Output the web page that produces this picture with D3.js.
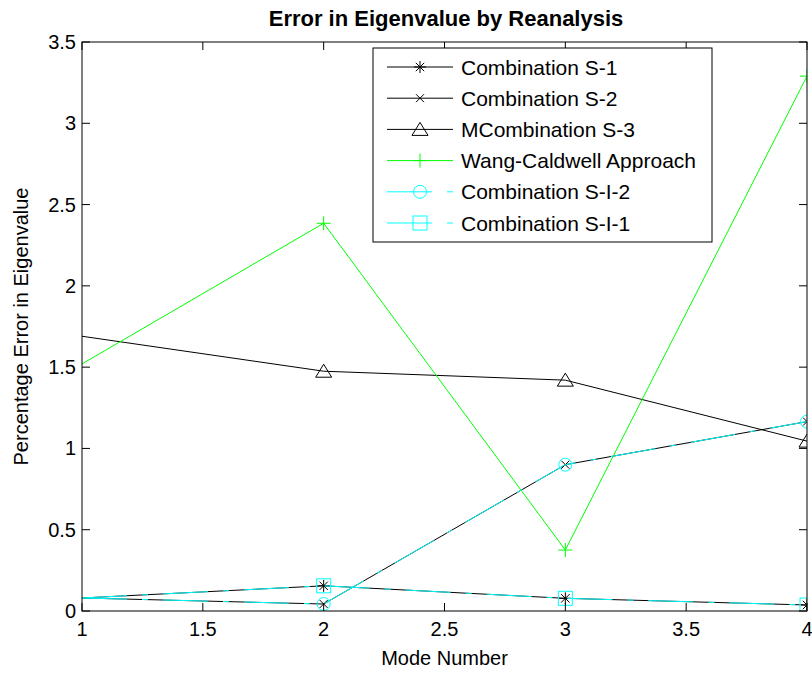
<!DOCTYPE html>
<html>
<head>
<meta charset="utf-8">
<script src="https://cdn.jsdelivr.net/npm/d3@7"></script>
<style>
  body { margin: 0; background: #fff; }
  text { font-family: "Liberation Sans", Arial, sans-serif; fill: #000; }
</style>
</head>
<body>
<div id="chart"></div>
<script>
// data (value at mode 1 is where each line enters the axes)
const modes = [1, 2, 3, 4];
const comboS1 = [0.08, 0.155, 0.078, 0.037];
const comboS2 = [0.08, 0.043, 0.90, 1.165];
const mcomboS3 = [1.69, 1.475, 1.42, 1.045];
const wangCaldwell = [1.52, 2.385, 0.375, 3.29];
const comboSI2 = [0.08, 0.043, 0.90, 1.165];
const comboSI1 = [0.08, 0.155, 0.078, 0.037];
const xTicks = [1, 1.5, 2, 2.5, 3, 3.5, 4];
const yTicks = [0, 0.5, 1, 1.5, 2, 2.5, 3, 3.5];

const series = [
  {name: "Combination S-1", values: comboS1, color: "#000", marker: "star"},
  {name: "Combination S-2", values: comboS2, color: "#000", marker: "x"},
  {name: "MCombination S-3", values: mcomboS3, color: "#000", marker: "triangle"},
  {name: "Wang-Caldwell Approach", values: wangCaldwell, color: "#00ff00", marker: "plus"},
  {name: "Combination S-I-2", values: comboSI2, color: "#00ffff", marker: "circle", dash: "45,15,6,15"},
  {name: "Combination S-I-1", values: comboSI1, color: "#00ffff", marker: "square", dash: "45,15,6,15"}
];

// dimensions
const width = 812, height = 673;
const plotLeft = 82, plotRight = 807, plotTop = 42, plotBottom = 611;
const tickLen = 8;

const x = d3.scaleLinear().domain([1, 4]).range([plotLeft, plotRight]);
const y = d3.scaleLinear().domain([0, 3.5]).range([plotBottom, plotTop]);

const svg = d3.select("#chart").append("svg")
  .attr("width", width)
  .attr("height", height);

svg.append("clipPath").attr("id", "plotClip")
  .append("rect")
  .attr("x", plotLeft).attr("y", plotTop)
  .attr("width", plotRight - plotLeft).attr("height", plotBottom - plotTop);

// draw a marker of given type centred on (cx, cy)
const drawMarker = (g, type, cx, cy, color) => {
  const m = g.append("g").attr("transform", `translate(${cx},${cy})`)
    .attr("fill", "none").attr("stroke", color).attr("stroke-width", 1);
  if (type === "star") {
    const r = 6;
    m.append("path").attr("d", `M${-r},0H${r}M0,${-r}V${r}M${-r*0.7},${-r*0.7}L${r*0.7},${r*0.7}M${-r*0.7},${r*0.7}L${r*0.7},${-r*0.7}`);
  } else if (type === "x") {
    const r = 4;
    m.append("path").attr("d", `M${-r},${-r}L${r},${r}M${-r},${r}L${r},${-r}`);
  } else if (type === "triangle") {
    m.append("path").attr("d", "M0,-7L8,6H-8Z");
  } else if (type === "plus") {
    const r = 7;
    m.append("path").attr("d", `M${-r},0H${r}M0,${-r}V${r}`);
  } else if (type === "circle") {
    m.append("circle").attr("r", 6.5);
  } else if (type === "square") {
    m.append("rect").attr("x", -7).attr("y", -7).attr("width", 14).attr("height", 14);
  }
};

// series lines and markers, clipped to the axes
const line = d3.line().x((d, i) => x(modes[i])).y(d => y(d));
const plot = svg.append("g").attr("clip-path", "url(#plotClip)");
series.forEach(s => {
  plot.append("path")
    .attr("d", line(s.values))
    .attr("fill", "none")
    .attr("stroke", s.color)
    .attr("stroke-width", 1)
    .attr("stroke-dasharray", s.dash || null);
  // lines enter from the left edge, so no marker at mode 1
  s.values.forEach((v, i) => { if (i > 0) drawMarker(plot, s.marker, x(modes[i]), y(v), s.color); });
});

// axes box
svg.append("rect")
  .attr("x", plotLeft).attr("y", plotTop)
  .attr("width", plotRight - plotLeft).attr("height", plotBottom - plotTop)
  .attr("fill", "none").attr("stroke", "#000").attr("stroke-width", 1);

// ticks, pointing inward on all four sides
const ticks = svg.append("g").attr("stroke", "#000").attr("stroke-width", 1);
xTicks.forEach(t => {
  ticks.append("line").attr("x1", x(t)).attr("x2", x(t)).attr("y1", plotBottom).attr("y2", plotBottom - tickLen);
  ticks.append("line").attr("x1", x(t)).attr("x2", x(t)).attr("y1", plotTop).attr("y2", plotTop + tickLen);
  svg.append("text").attr("x", x(t)).attr("y", 636)
    .attr("text-anchor", "middle").attr("font-size", 20).text(t);
});
yTicks.forEach(t => {
  ticks.append("line").attr("x1", plotLeft).attr("x2", plotLeft + tickLen).attr("y1", y(t)).attr("y2", y(t));
  ticks.append("line").attr("x1", plotRight).attr("x2", plotRight - tickLen).attr("y1", y(t)).attr("y2", y(t));
  svg.append("text").attr("x", 76).attr("y", y(t) + 7)
    .attr("text-anchor", "end").attr("font-size", 20).text(t);
});

// title and axis labels
svg.append("text").attr("x", 446).attr("y", 26)
  .attr("text-anchor", "middle").attr("font-size", 22).attr("font-weight", "bold")
  .text("Error in Eigenvalue by Reanalysis");
svg.append("text").attr("x", (plotLeft + plotRight) / 2).attr("y", 665)
  .attr("text-anchor", "middle").attr("font-size", 20).text("Mode Number");
svg.append("text").attr("transform", `translate(28,${(plotTop + plotBottom) / 2}) rotate(-90)`)
  .attr("text-anchor", "middle").attr("font-size", 20).text("Percentage Error in Eigenvalue");

// legend
const legX = 373, legY = 48, legW = 339, legH = 194, rowH = 31.2;
const legend = svg.append("g");
legend.append("rect")
  .attr("x", legX).attr("y", legY).attr("width", legW).attr("height", legH)
  .attr("fill", "#fff").attr("stroke", "#000").attr("stroke-width", 1);
series.forEach((s, i) => {
  const cy = 67 + i * rowH;
  legend.append("line")
    .attr("x1", 387).attr("x2", 453).attr("y1", cy).attr("y2", cy)
    .attr("stroke", s.color).attr("stroke-width", 1)
    .attr("stroke-dasharray", s.dash || null);
  drawMarker(legend, s.marker, 420, cy, s.color);
  legend.append("text").attr("x", 461).attr("y", cy + 7.5)
    .attr("font-size", 21).text(s.name);
});
</script>
</body>
</html>
